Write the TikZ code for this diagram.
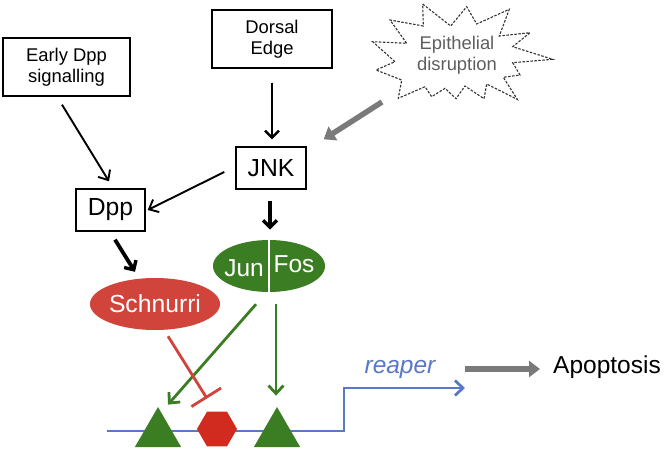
\documentclass[tikz,border=0pt]{standalone}
\usepackage{fontspec}
\setmainfont{Liberation Sans}
\usetikzlibrary{arrows.meta,shapes.geometric,calc}
\definecolor{jgreen}{HTML}{3A7D22}
\definecolor{sred}{HTML}{D0443C}
\definecolor{hred}{HTML}{D12A1E}
\definecolor{dblue}{HTML}{5A78C8}
\definecolor{tgray}{HTML}{5E5E5E}
\definecolor{agray}{HTML}{7A7A7A}
\tikzset{
  smallbox/.style={draw=black, line width=1.4pt, inner sep=0pt, align=center,
    font=\fontsize{18.4}{21.5}\selectfont},
  bigbox/.style={draw=black, line width=1.4pt, inner sep=0pt, align=center,
    font=\fontsize{24.7}{28}\selectfont},
  thinarrow/.style={line width=1.9pt, -{Straight Barb[length=8pt,width=14pt,line width=1.9pt]}},
  medarrow/.style={line width=2.5pt, -{Straight Barb[length=7pt,width=14pt,line width=2.5pt]}},
  thickarrow/.style={line width=3.8pt, -{Straight Barb[length=7pt,width=14pt,line width=3.4pt]}},
  greenarrow/.style={draw=jgreen, line width=2.8pt, -{Straight Barb[length=8pt,width=15pt,line width=2.8pt]}},
  grayarrow/.style={draw=agray, line width=5.5pt, -{Triangle[length=11pt,width=16pt]}},
  tri/.style={regular polygon, regular polygon sides=3, minimum size=53.4pt, inner sep=0pt, fill=jgreen},
}
\begin{document}
\begin{tikzpicture}[x=1pt,y=-1pt]
\useasboundingbox (0,0) rectangle (664,455);
% boxes
\node[smallbox, minimum width=127pt, minimum height=58pt] (early) at (66.5,67) {Early Dpp\\signalling};
\node[smallbox, minimum width=120pt, minimum height=58pt] (dorsal) at (272,39) {Dorsal\\Edge};
\node[bigbox, minimum width=70pt, minimum height=42pt] (jnk) at (271,168) {JNK};
\node[bigbox, minimum width=69pt, minimum height=42pt] (dpp) at (110.5,210) {Dpp};
% starburst
\draw[line width=1.1pt, dashed, dash pattern=on 2.5pt off 1.5pt, draw=black!80]
  (422.7,4) -- (450.7,26) -- (466.7,6.7) -- (476.7,24) -- (509.3,9.3) -- (499.3,36)
  -- (530,32.7) -- (512.7,46.7) -- (552.7,59.3) -- (512.7,62.7) -- (520,75)
  -- (503.3,77.3) -- (517.3,99.3) -- (486.7,84) -- (484,98.7) -- (465,86)
  -- (456,98.7) -- (445,88.3) -- (431.7,96.7) -- (425,86.7) -- (398.3,98.3)
  -- (401.7,80) -- (376,70) -- (395,61.7) -- (372.7,41.7) -- (406.7,43.3)
  -- (390,20) -- (423.3,26) -- cycle;
\node[align=center, text=tgray, font=\fontsize{18.4}{21.5}\selectfont, inner sep=0pt] (epi) at (457,55) {Epithelial\\disruption};
\coordinate (epistart) at (382,102);
% ellipses
\node[ellipse, fill=jgreen, minimum width=112pt, minimum height=52pt, inner sep=0pt] (junfos) at (269,266) {};
\draw[white, line width=1.3pt] (junfos.north) -- (junfos.south);
\node[text=white, font=\fontsize{24.5}{28}\selectfont, inner sep=0pt] (jun) at (244,268) {Jun};
\node[text=white, font=\fontsize{24.5}{28}\selectfont, inner sep=0pt] (fos) at (294,264) {Fos};
\node[ellipse, fill=sred, minimum width=116pt, minimum height=52pt, inner sep=0pt, text=white,
  font=\fontsize{24.7}{28}\selectfont] (schnurri) at (155,304) {Schnurri};
% DNA line
\coordinate (dnastart) at (107,431);
\coordinate (dnastep) at (344,431);
\coordinate (dnaend) at (465,388);
\draw[draw=dblue, line width=2.8pt, -{Straight Barb[length=8pt,width=15pt,line width=2.8pt]}]
  (dnastart) -- (dnastep) |- (dnaend);
\node[text=dblue, font=\fontsize{24.5}{28}\itshape\selectfont, inner sep=0pt] (reaper) at (400,369) {reaper};
% sites
\node[tri] (site1) at (158,433.7) {};
\node[tri] (site2) at (277,433.7) {};
\node[regular polygon, regular polygon sides=6, minimum size=40pt, inner sep=0pt, fill=hred] (hex) at (217,429) {};
% apoptosis
\node[font=\fontsize{24.5}{28}\selectfont, inner sep=0pt, anchor=west] (apop) at (553,367) {Apoptosis};
% connectors
\draw[thinarrow] ($(early.south)+(-4.5,8)$) -- ($(dpp.north)+(-1.5,-7)$);
\draw[medarrow] ($(dorsal.south)+(0,14)$) -- ($(dorsal.south |- jnk.north)+(0,-7)$);
\draw[thinarrow] ($(jnk.west)+(-11,4)$) -- ($(dpp.east)+(2,0)$);
\draw[grayarrow] (epistart) -- ($(jnk.north east)+(17,-7)$);
\draw[thickarrow] ($(jnk.south)+(-1,11)$) -- ($(jnk.south)+(-1,40)$);
\draw[thickarrow] ($(dpp.south)+(4.5,8)$) -- ($(schnurri.north)+(-20,-6)$);
\draw[greenarrow] ($(junfos.south)+(-13,12)$) -- ($(site1.north)+(10,-2)$);
\draw[greenarrow] ($(junfos.south)+(7,12)$) -- ($(site2.north)+(-1,-11)$);
\draw[draw=sred, line width=2.8pt, -{Bar[width=35pt,line width=2.8pt]}] ($(schnurri.south)+(13,6)$) -- ($(hex.north)+(-10,-13)$);
\draw[grayarrow] ($(dnaend)+(0,-19)$) -- ($(apop.west)+(-13,2)$);
\end{tikzpicture}
\end{document}
